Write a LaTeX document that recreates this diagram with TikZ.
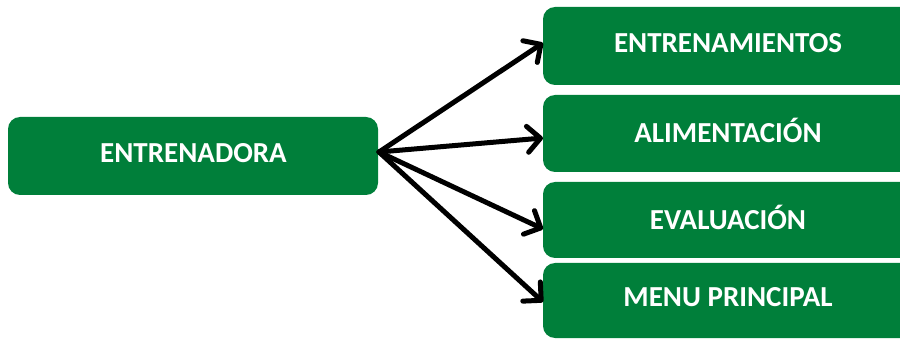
\documentclass[tikz,border=0pt]{standalone}
\usepackage{fontspec}
\setmainfont{Carlito}
\usetikzlibrary{arrows.meta}
\definecolor{boxgreen}{HTML}{007F3A}
\tikzset{
  greenbox/.style={fill=boxgreen, draw=none, rounded corners=12pt, inner sep=0pt},
  boxlabel/.style={text=white, font=\fontsize{29}{34}\selectfont\bfseries, inner sep=0pt, anchor=center},
  link/.style={line width=5pt, line cap=round, line join=round, black,
    -{Straight Barb[length=13pt, width=26pt, line cap=round, line join=round]}}
}
\begin{document}
\begin{tikzpicture}[x=1pt, y=-1pt]
  \useasboundingbox (0,0) rectangle (900,339);
  \begin{scope}
    \clip (0,0) rectangle (900,339);
    % source box
    \fill[greenbox] (8,117) rectangle (378,195);
    % target boxes, running past the right edge
    \fill[greenbox] (543,7) rectangle (920,85);
    \fill[greenbox] (543,95) rectangle (920,172);
    \fill[greenbox] (543,182) rectangle (920,258);
    \fill[greenbox] (543,263) rectangle (920,338);
  \end{scope}
  \node[boxlabel] (src) at (193.5,153) {ENTRENADORA};
  \node[boxlabel] (t1) at (728,43) {ENTRENAMIENTOS};
  \node[boxlabel] (t2) at (728,130) {ALIMENTACIÓN};
  \node[boxlabel] (t3) at (728,217) {EVALUACIÓN};
  \node[boxlabel] (t4) at (728,297) {MENU PRINCIPAL};
  % connector anchor points on the box edges
  \coordinate (hub) at (379,152);
  \coordinate (e1) at (543,43);
  \coordinate (e2) at (543,138);
  \coordinate (e3) at (543,229);
  \coordinate (e4) at (543,302);
  \draw[link] (hub) -- (e1);
  \draw[link] (hub) -- (e2);
  \draw[link] (hub) -- (e3);
  \draw[link] (hub) -- (e4);
\end{tikzpicture}
\end{document}
